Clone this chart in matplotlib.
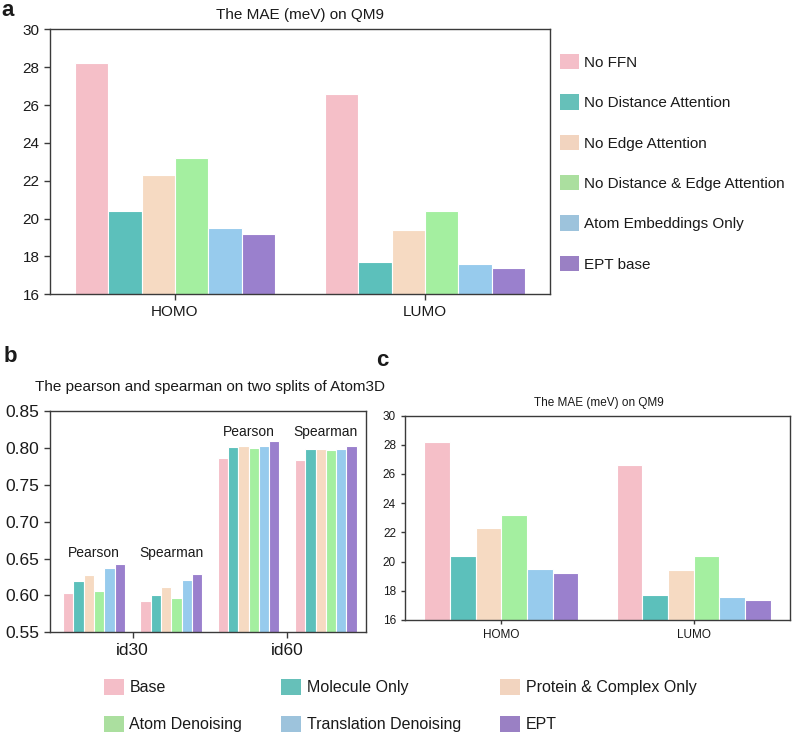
import matplotlib
matplotlib.use("Agg")
import matplotlib.pyplot as plt
from matplotlib.patches import Patch
import numpy as np

plt.rcParams['font.family'] = ['Liberation Sans', 'DejaVu Sans']

# ---------------- data ----------------
qm9_targets = ['HOMO', 'LUMO']
ablation_labels = ['No FFN', 'No Distance Attention', 'No Edge Attention',
                   'No Distance & Edge Attention', 'Atom Embeddings Only', 'EPT base']
homo_mae = [28.2, 20.4, 22.3, 23.2, 19.5, 19.2]
lumo_mae = [26.6, 17.7, 19.4, 20.4, 17.6, 17.4]

atom3d_splits = ['id30', 'id60']
atom3d_metrics = ['Pearson', 'Spearman', 'Pearson', 'Spearman']
pretrain_labels = ['Base', 'Molecule Only', 'Protein & Complex Only',
                   'Atom Denoising', 'Translation Denoising', 'EPT']
id30_pearson = [0.603, 0.620, 0.627, 0.606, 0.637, 0.643]
id30_spearman = [0.593, 0.601, 0.612, 0.596, 0.621, 0.629]
id60_pearson = [0.786, 0.801, 0.803, 0.800, 0.803, 0.810]
id60_spearman = [0.783, 0.799, 0.799, 0.797, 0.799, 0.802]

bar_colors = ['#f5bfc8', '#5cc0bb', '#f6dac2', '#a4efa0', '#97cbed', '#9a80cd']
legend_colors = ['#f4bec8', '#66c0b9', '#f2d4bf', '#abdf9f', '#9dc3dc', '#9a80c4']

W, H = 800, 733
fig = plt.figure(figsize=(W / 100, H / 100), dpi=100)


def fx(x):
    return x / W


def fy(y):
    return 1 - y / H


def add_axes(left, top, right, bottom):
    return fig.add_axes([fx(left), fy(bottom), (right - left) / W, (bottom - top) / H])


spine_col = '#3a3a3a'
text_col = '#1a1a1a'


def style(ax, size):
    for s in ax.spines.values():
        s.set_color(spine_col)
        s.set_linewidth(1.0)
    ax.tick_params(axis='both', colors=spine_col, labelcolor=text_col,
                   labelsize=size, length=4, width=1.0, direction='out')


nb = 6
bw = 0.8 / nb
offsets = (np.arange(nb) - (nb - 1) / 2) * bw


def draw_mae(ax):
    x = np.arange(len(qm9_targets))
    for i in range(nb):
        ax.bar(x + offsets[i], [homo_mae[i], lumo_mae[i]], width=bw, bottom=0,
               color=bar_colors[i], edgecolor='white', linewidth=0.8)
    ax.set_ylim(16, 30)
    ax.set_yticks(np.arange(16, 31, 2))
    ax.set_xlim(-0.5, 1.5)
    ax.set_xticks(x)
    ax.set_xticklabels(qm9_targets)


# ---------------- panel a ----------------
ax_a = add_axes(50, 29.3, 550, 294.3)
draw_mae(ax_a)
style(ax_a, 11)
fig.text(fx(300), fy(15), 'The MAE (meV) on QM9', ha='center', va='center',
         fontsize=11, color=text_col)
fig.text(fx(1), fy(10), 'a', ha='left', va='center', fontsize=16,
         fontweight='bold', color=text_col)

handles_a = [Patch(facecolor=c, edgecolor='none') for c in legend_colors]
ax_a.legend(handles_a, ablation_labels, loc='upper left',
            bbox_to_anchor=(fx(560), fy(54)), bbox_transform=fig.transFigure,
            frameon=False, borderpad=0, borderaxespad=0, fontsize=11,
            handlelength=1.24, handleheight=1.18, labelspacing=1.6,
            handletextpad=0.35, labelcolor=text_col)

# ---------------- panel b ----------------
ax_b = add_axes(50, 411, 366, 632.3)
groups = [id30_pearson, id30_spearman, id60_pearson, id60_spearman]
xg = np.arange(len(groups))
for i in range(nb):
    ax_b.bar(xg + offsets[i], [g[i] for g in groups], width=bw,
             color=bar_colors[i], edgecolor='white', linewidth=0.8)
ax_b.set_ylim(0.55, 0.85)
ax_b.set_yticks(np.arange(0.55, 0.851, 0.05))
ax_b.set_yticklabels([f'{v:.2f}' for v in np.arange(0.55, 0.851, 0.05)])
ax_b.set_xlim(-0.57, 3.52)
ax_b.set_xticks([0.5, 2.5])
ax_b.set_xticklabels(atom3d_splits)
style(ax_b, 12.5)
label_y = [0.657, 0.657, 0.8215, 0.8215]
for k, name in enumerate(atom3d_metrics):
    ax_b.text(xg[k], label_y[k], name, ha='center', va='center',
              fontsize=10, color=text_col)
fig.text(fx(210), fy(387), 'The pearson and spearman on two splits of Atom3D',
         ha='center', va='center', fontsize=11, color=text_col)
fig.text(fx(4), fy(357), 'b', ha='left', va='center', fontsize=16,
         fontweight='bold', color=text_col)

# ---------------- panel c ----------------
ax_c = add_axes(405, 415.5, 790, 620)
draw_mae(ax_c)
style(ax_c, 8.5)
ax_c.tick_params(length=3)
fig.text(fx(599), fy(403), 'The MAE (meV) on QM9', ha='center', va='center',
         fontsize=8.5, color=text_col)
fig.text(fx(376), fy(360), 'c', ha='left', va='center', fontsize=16,
         fontweight='bold', color=text_col)

# ---------------- bottom legend ----------------
order = [0, 3, 1, 4, 2, 5]
handles_b = [Patch(facecolor=legend_colors[i], edgecolor='none') for i in order]
labels_b = [pretrain_labels[i] for i in order]
fig.legend(handles_b, labels_b, loc='upper left', ncol=3,
           bbox_to_anchor=(fx(104), fy(679)), bbox_transform=fig.transFigure,
           frameon=False, borderpad=0, borderaxespad=0, fontsize=11.5,
           handlelength=1.24, handleheight=1.18, labelspacing=1.28,
           handletextpad=0.35, columnspacing=2.45, labelcolor=text_col)

fig.savefig('out.png', dpi=100)
